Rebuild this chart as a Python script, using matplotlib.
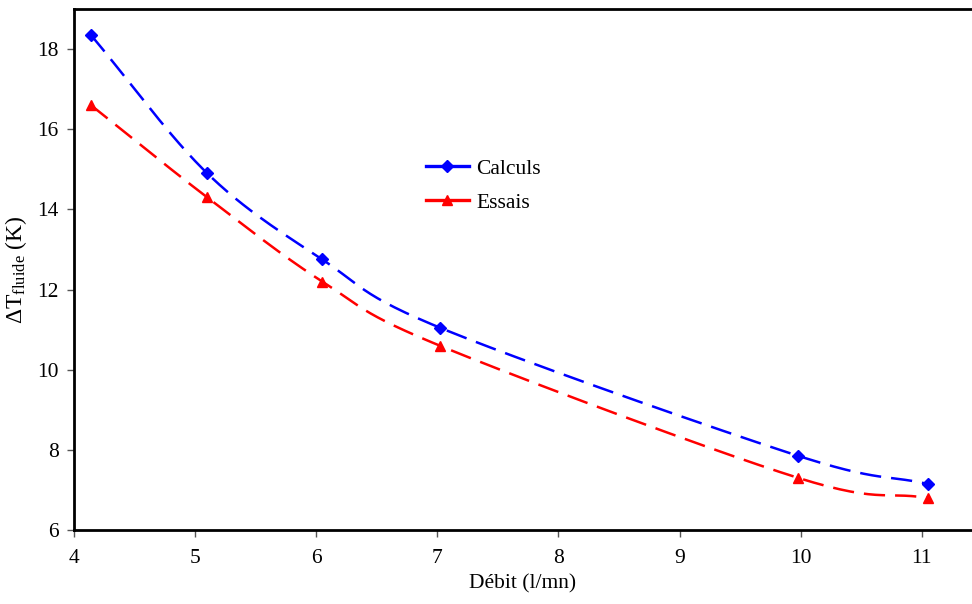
import matplotlib.pyplot as plt
import numpy as np

plt.rcParams['font.family'] = ['Liberation Serif', 'DejaVu Serif']
plt.rcParams['mathtext.fontset'] = 'custom'
plt.rcParams['mathtext.rm'] = 'Liberation Serif'
plt.rcParams['mathtext.it'] = 'Liberation Serif:italic'

# donnees
debit = [4.14, 5.1, 6.05, 7.02, 9.98, 11.05]
calculs = [18.35, 14.9, 12.75, 11.05, 7.85, 7.15]
essais = [16.6, 14.3, 12.2, 10.6, 7.3, 6.8]


def lisser(x, y, n=30):
    # courbe lissee type Catmull-Rom (comme "lissage" Excel)
    x = np.asarray(x, float)
    y = np.asarray(y, float)
    px = np.concatenate([[2 * x[0] - x[1]], x, [2 * x[-1] - x[-2]]])
    py = np.concatenate([[2 * y[0] - y[1]], y, [2 * y[-1] - y[-2]]])
    xs, ys = [], []
    t = np.linspace(0, 1, n)
    for i in range(1, len(px) - 2):
        p0x, p1x, p2x, p3x = px[i - 1:i + 3]
        p0y, p1y, p2y, p3y = py[i - 1:i + 3]
        b1x = p1x + (p2x - p0x) / 6
        b1y = p1y + (p2y - p0y) / 6
        b2x = p2x - (p3x - p1x) / 6
        b2y = p2y - (p3y - p1y) / 6
        bx = (1 - t) ** 3 * p1x + 3 * (1 - t) ** 2 * t * b1x + 3 * (1 - t) * t ** 2 * b2x + t ** 3 * p2x
        by = (1 - t) ** 3 * p1y + 3 * (1 - t) ** 2 * t * b1y + 3 * (1 - t) * t ** 2 * b2y + t ** 3 * p2y
        xs.extend(bx)
        ys.extend(by)
    return xs, ys


fig = plt.figure(figsize=(9.72, 6.04), dpi=100)
ax = fig.add_axes([74 / 972, (604 - 530) / 604, 1 - 74 / 972, 521 / 604])

for val, col, mk, ms, lab in [(calculs, 'blue', 'D', 6, 'Calculs'),
                               (essais, 'red', '^', 7, 'Essais')]:
    sx, sy = lisser(debit, val)
    ax.plot(sx, sy, color=col, lw=1.8, dashes=(8.5, 4), zorder=2)
    ax.plot(debit, val, linestyle='none', marker=mk, color=col, ms=ms, zorder=3)
    ax.plot([], [], color=col, lw=2.4, marker=mk, ms=ms, label=lab)

ax.set_xlim(4, 11.415)
ax.set_ylim(6, 19)
ax.set_xticks(range(4, 12))
ax.set_yticks(range(6, 20, 2))
ax.tick_params(labelsize=15.5, length=5, width=1, color='#555555')
ax.tick_params(axis='x', pad=9)
ax.tick_params(axis='y', pad=6)

for s in ['left', 'bottom', 'top']:
    ax.spines[s].set_linewidth(2)
ax.spines['right'].set_visible(False)

ax.set_xlabel('Débit (l/mn)', fontsize=15.5, labelpad=4)
ax.set_ylabel(r'$\Delta$T$_{\mathrm{fluide}}$ (K)', fontsize=17, labelpad=6)

ax.legend(loc='upper left', bbox_to_anchor=(0.37, 0.75), frameon=False,
          fontsize=15.5, handlelength=2.0, handletextpad=0.35, labelspacing=0.65)

fig.savefig('out.png', dpi=100)
